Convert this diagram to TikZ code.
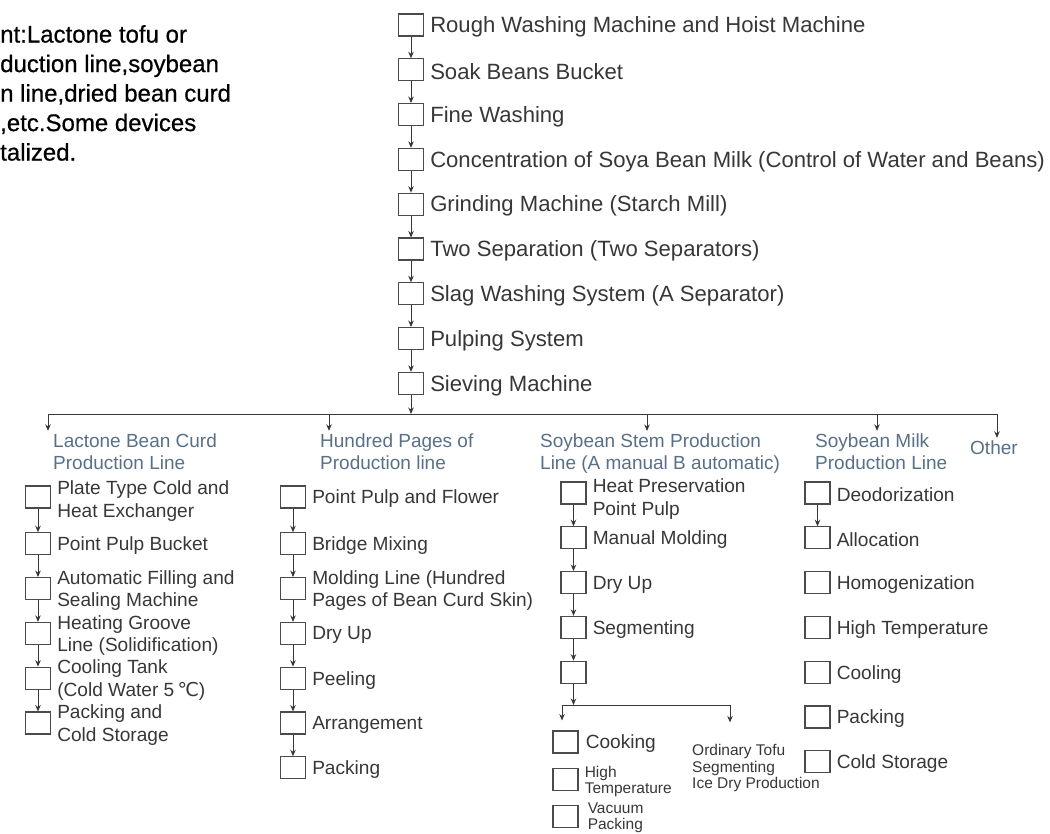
\documentclass[tikz,border=0pt]{standalone}
\usepackage{fontspec}
\setmainfont{Liberation Sans}
\newfontfamily\notefont{Liberation Sans}[FakeBold=0.6]
\newfontfamily\symfont{DejaVu Sans}
\usepackage{xcolor}
\usetikzlibrary{arrows.meta, positioning, shapes}

\definecolor{ink}{RGB}{55,55,55}
\definecolor{headblue}{RGB}{88,112,135}
\definecolor{boxgrey}{RGB}{75,75,75}

\begin{document}
\begin{tikzpicture}[x=1pt, y=-1pt, node distance=44.8pt]
    \tikzstyle{box} = [rectangle, draw=boxgrey, line width=1.1pt, minimum width=25pt, minimum height=22pt, inner sep=0pt]
    \tikzstyle{main} = [inner sep=0pt, yshift=-2pt, text=ink, font=\fontsize{22.1}{25}\selectfont]
    \tikzstyle{item} = [inner sep=0pt, yshift=-2pt, text=ink, align=left, font=\fontsize{19.1}{22.5}\selectfont]
    \tikzstyle{small} = [inner sep=0pt, text=ink, align=left, font=\fontsize{15.5}{16.2}\selectfont]
    \tikzstyle{head} = [anchor=west, inner sep=0pt, text=headblue, align=left, font=\fontsize{19}{22}\selectfont]
    \tikzstyle{line} = [draw=ink, line width=0.9pt, -{Stealth[length=6.5pt, width=5.5pt]}]
    \useasboundingbox (0,0) rectangle (1050,834);

    % 说明文字
    \node[anchor=north west, inner sep=0pt, align=left, font=\notefont\fontsize{24}{29.5}\selectfont] (note) at (0,25)
        {nt:Lactone tofu or\\duction line,soybean\\n line,dried bean curd\\,etc.Some devices\\talized.};

    % 主流程
    \node[box] (rough) at (411,25) {}; \node[main, right=6pt of rough] (roughtxt) {Rough Washing Machine and Hoist Machine};
    \node[box, below of=rough] (soak) {}; \node[main, right=6pt of soak] (soaktxt) {Soak Beans Bucket};
    \node[box, below of=soak] (fine) {}; \node[main, right=6pt of fine] (finetxt) {Fine Washing};
    \node[box, below of=fine] (conc) {}; \node[main, right=6pt of conc] (conctxt) {Concentration of Soya Bean Milk (Control of Water and Beans)};
    \node[box, below of=conc] (grind) {}; \node[main, right=6pt of grind] (grindtxt) {Grinding Machine (Starch Mill)};
    \node[box, below of=grind] (twosep) {}; \node[main, right=6pt of twosep] (twoseptxt) {Two Separation (Two Separators)};
    \node[box, below of=twosep] (slag) {}; \node[main, right=6pt of slag] (slagtxt) {Slag Washing System (A Separator)};
    \node[box, below of=slag] (pulping) {}; \node[main, right=6pt of pulping] (pulpingtxt) {Pulping System};
    \node[box, below of=pulping] (sieve) {}; \node[main, right=6pt of sieve] (sievetxt) {Sieving Machine};

    % 分支
    \coordinate (busl) at (48,414);
    \coordinate (busr) at (997,414);
    \coordinate (hundredbus) at (329,414);
    \coordinate (stembus) at (647,414);
    \coordinate (milkbus) at (877,414);
    \node[head] (lactone) at (53,452) {Lactone Bean Curd\\Production Line};
    \node[head] (hundred) at (320,452) {Hundred Pages of\\Production line};
    \node[head] (stem) at (540,454) {Soybean Stem Production\\Line (A manual B automatic)};
    \node[head] (milk) at (815,452) {Soybean Milk\\Production Line};
    \node[head] (other) at (970,448) {Other};

    % 内酯豆腐
    \node[box] (plate) at (38,497) {}; \node[item, right=6pt of plate, yshift=-2pt] (platetxt) {Plate Type Cold and\\Heat Exchanger};
    \node[box, below of=plate, yshift=-2pt] (bucket) {}; \node[item, right=6pt of bucket] (buckettxt) {Point Pulp Bucket};
    \node[box, below of=bucket] (filling) {}; \node[item, right=6pt of filling] (fillingtxt) {Automatic Filling and\\Sealing Machine};
    \node[box, below of=filling] (groove) {}; \node[item, right=6pt of groove] (groovetxt) {Heating Groove\\Line (Solidification)};
    \node[box, below of=groove] (tank) {}; \node[item, right=6pt of tank] (tanktxt) {Cooling Tank\\(Cold Water 5\,{\symfont ℃})};
    \node[box, below of=tank] (storage) {}; \node[item, right=6pt of storage] (storagetxt) {Packing and\\Cold Storage};

    % 百页
    \node[box] (flower) at (293,497) {}; \node[item, right=6pt of flower] (flowertxt) {Point Pulp and Flower};
    \node[box, below of=flower, yshift=-2pt] (bridge) {}; \node[item, right=6pt of bridge] (bridgetxt) {Bridge Mixing};
    \node[box, below of=bridge] (molding) {}; \node[item, right=6pt of molding] (moldingtxt) {Molding Line (Hundred\\Pages of Bean Curd Skin)};
    \node[box, below of=molding] (dry) {}; \node[item, right=6pt of dry] (drytxt) {Dry Up};
    \node[box, below of=dry] (peel) {}; \node[item, right=6pt of peel] (peeltxt) {Peeling};
    \node[box, below of=peel] (arrange) {}; \node[item, right=6pt of arrange] (arrangetxt) {Arrangement};
    \node[box, below of=arrange] (pack) {}; \node[item, right=6pt of pack] (packtxt) {Packing};

    % 豆干
    \node[box] (heat) at (573.5,493) {}; \node[item, right=6pt of heat, yshift=-4pt] (heattxt) {Heat Preservation\\Point Pulp};
    \node[box, below of=heat] (manual) {}; \node[item, right=6pt of manual] (manualtxt) {Manual Molding};
    \node[box, below of=manual] (stemdry) {}; \node[item, right=6pt of stemdry] (stemdrytxt) {Dry Up};
    \node[box, below of=stemdry] (seg) {}; \node[item, right=6pt of seg] (segtxt) {Segmenting};
    \node[box, below of=seg] (blank) {};
    \coordinate (sj) at (573.5,705);
    \coordinate (sl) at (562,705);
    \coordinate (sr) at (730,705);
    \node[box] (cook) at (565.5,742) {}; \node[item, right=7pt of cook] (cooktxt) {Cooking};
    \node[box, below of=cook, yshift=7pt] (hot) {}; \node[small, right=6pt of hot, yshift=-1.5pt] (hottxt) {High\\Temperature};
    \node[box, below of=hot, yshift=8.5pt] (vacuum) {}; \node[small, right=9pt of vacuum, yshift=-1.5pt] (vacuumtxt) {Vacuum\\Packing};
    \node[small, anchor=west] (tofu) at (692,768) {Ordinary Tofu\\Segmenting\\Ice Dry Production};

    % 豆奶
    \node[box] (deo) at (817.5,493) {}; \node[item, right=6pt of deo] (deotxt) {Deodorization};
    \node[box, below of=deo] (alloc) {}; \node[item, right=6pt of alloc] (alloctxt) {Allocation};
    \node[box, below of=alloc] (homo) {}; \node[item, right=6pt of homo] (homotxt) {Homogenization};
    \node[box, below of=homo] (hightemp) {}; \node[item, right=6pt of hightemp] (hightemptxt) {High Temperature};
    \node[box, below of=hightemp] (cool) {}; \node[item, right=6pt of cool] (cooltxt) {Cooling};
    \node[box, below of=cool] (milkpack) {}; \node[item, right=6pt of milkpack] (milkpacktxt) {Packing};
    \node[box, below of=milkpack] (cold) {}; \node[item, right=6pt of cold] (coldtxt) {Cold Storage};

    % 添加箭头
    \path [line] (rough) -- (soak);
    \path [line] (soak) -- (fine);
    \path [line] (fine) -- (conc);
    \path [line] (conc) -- (grind);
    \path [line] (grind) -- (twosep);
    \path [line] (twosep) -- (slag);
    \path [line] (slag) -- (pulping);
    \path [line] (pulping) -- (sieve);
    \path [line] (sieve) -- (sieve |- busl);
    \draw [ink, line width=0.9pt] (busl) -- (busr);
    \path [line, shorten >=3pt] (busl) -- (busl |- lactone.north);
    \path [line, shorten >=3pt] (hundredbus) -- (hundredbus |- hundred.north);
    \path [line, shorten >=3pt] (stembus) -- (stembus |- stem.north);
    \path [line, shorten >=3pt] (milkbus) -- (milkbus |- milk.north);
    \path [line, shorten >=3pt] (busr) -- (busr |- other.north);

    \path [line] (plate) -- (bucket);
    \path [line] (bucket) -- (filling);
    \path [line] (filling) -- (groove);
    \path [line] (groove) -- (tank);
    \path [line] (tank) -- (storage);

    \path [line] (flower) -- (bridge);
    \path [line] (bridge) -- (molding);
    \path [line] (molding) -- (dry);
    \path [line] (dry) -- (peel);
    \path [line] (peel) -- (arrange);
    \path [line] (arrange) -- (pack);

    \path [line] (heat) -- (manual);
    \path [line] (manual) -- (stemdry);
    \path [line] (stemdry) -- (seg);
    \path [line] (seg) -- (blank);
    \path [line] (blank) -- (sj);
    \draw [ink, line width=0.9pt] (sl) -- (sr);
    \path [line, shorten >=10pt] (sl) -- (sl |- cook.north);
    \path [line, shorten >=22pt] (sr) -- (sr |- tofu.north);

    \path [line] (deo) -- (alloc);
\end{tikzpicture}
\end{document}
